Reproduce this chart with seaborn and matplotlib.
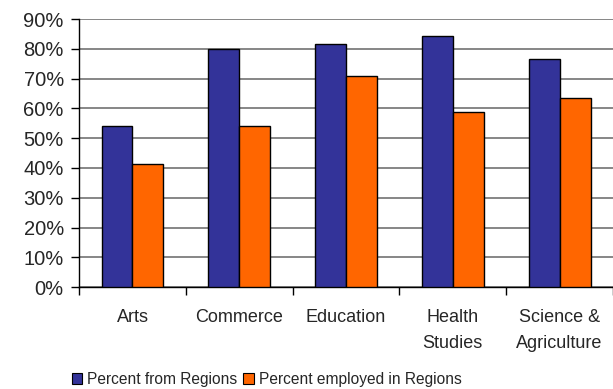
import matplotlib
matplotlib.use("Agg")
import matplotlib.pyplot as plt
import matplotlib.patches as mpatches
from matplotlib.ticker import FixedLocator, PercentFormatter
import seaborn as sns
import pandas as pd

categories = ["Arts", "Commerce", "Education", "Health\nStudies", "Science &\nAgriculture"]
pct_from_regions = [54, 80, 81.6, 84.2, 76.7]
pct_employed_regions = [41.3, 54, 70.9, 58.9, 63.6]
series_names = ["Percent from Regions", "Percent employed in Regions"]
colors = ["#333399", "#FF6600"]

df = pd.DataFrame({
    "category": categories * 2,
    "value": pct_from_regions + pct_employed_regions,
    "series": [series_names[0]] * len(categories) + [series_names[1]] * len(categories),
})

sns.set_style("white")
plt.rcParams["font.family"] = ["Liberation Sans", "DejaVu Sans"]

fig = plt.figure(figsize=(6.13, 3.89), dpi=100)
ax = fig.add_axes([0.129, 0.262, 0.871, 0.689])

sns.barplot(data=df, x="category", y="value", hue="series", palette=colors,
            width=0.58, edgecolor="black", linewidth=1.0, saturation=1,
            legend=False, ax=ax, zorder=3)

ax.set_ylim(0, 90)
ax.set_xlim(-0.5, len(categories) - 0.5)
ax.set_yticks(range(0, 91, 10))
ax.yaxis.set_major_formatter(PercentFormatter(decimals=0))
ax.yaxis.grid(True, color="#666666", linewidth=1.1, zorder=0)
ax.set_axisbelow(True)

ax.xaxis.set_minor_locator(FixedLocator([i - 0.5 for i in range(len(categories) + 1)]))
ax.tick_params(axis="x", which="major", length=0, pad=16, labelsize=13)
ax.tick_params(axis="x", which="minor", length=6, width=1, color="black", direction="out", bottom=True)
ax.tick_params(axis="y", which="major", length=6, width=1, color="black", direction="out", left=True, labelsize=14.5, pad=5)
for lbl in ax.get_xticklabels():
    lbl.set_linespacing(1.65)

ax.set_xlabel("")
ax.set_ylabel("")
for s in ["top", "right"]:
    ax.spines[s].set_visible(False)
for s in ["left", "bottom"]:
    ax.spines[s].set_color("black")
    ax.spines[s].set_linewidth(1.0)

handles = [mpatches.Patch(facecolor=c, edgecolor="black", linewidth=0.8, label=n)
           for c, n in zip(colors, series_names)]
fig.legend(handles=handles, loc="center", bbox_to_anchor=(0.435, 0.025), ncol=2,
           frameon=False, fontsize=11.2, handlelength=0.7, handleheight=0.7,
           handletextpad=0.3, columnspacing=0.4, borderpad=0)

fig.savefig("out.png", dpi=100)
